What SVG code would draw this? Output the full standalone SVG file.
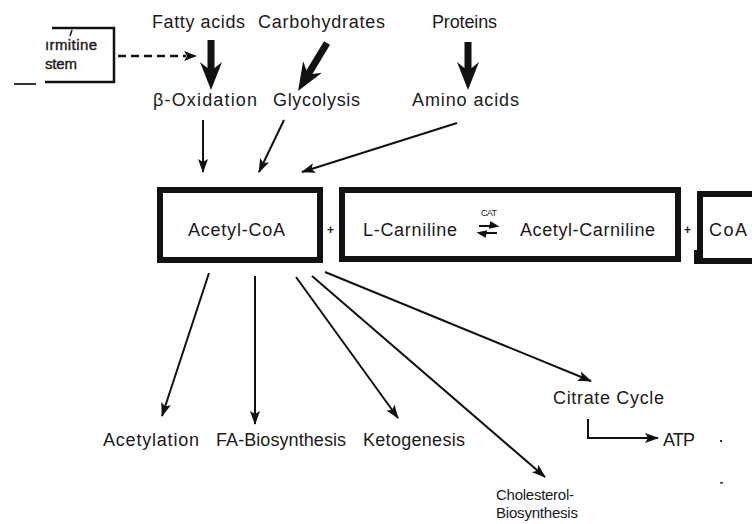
<svg xmlns="http://www.w3.org/2000/svg" width="752" height="524" viewBox="0 0 752 524">
<style>
text{font-family:"Liberation Sans",Arial,sans-serif;fill:#1a1a1a}
.lbl{font-size:18px}
.big{font-size:18px}
.sm{font-size:15px}
.box{fill:none;stroke:#111;stroke-width:6}
.thin{stroke:#111;stroke-width:2;fill:none}
.thick{fill:#111}
</style>
<defs>
<marker id="ah" viewBox="0 0 14 10" refX="13" refY="5" markerWidth="14" markerHeight="10" markerUnits="userSpaceOnUse" orient="auto">
<path d="M0,0 L14,5 L0,10 L3,5 z" fill="#111"/>
</marker>
</defs>
<rect width="752" height="524" fill="#fff"/>

<g id="carnitine-system">
<path d="M52,28 H114 V82 H45" fill="none" stroke="#111" stroke-width="2.5"/>
<path d="M72,30 L70,36" stroke="#111" stroke-width="1.5"/>
<text x="45" y="50" font-size="15" stroke="#1a1a1a" stroke-width="0.4" textLength="52">ırmitine</text>
<text x="45" y="69" font-size="15" stroke="#1a1a1a" stroke-width="0.4" textLength="32">stem</text>
<rect x="14" y="83" width="22" height="2" fill="#333"/>
</g>

<g id="fatty-acids"><text class="lbl" x="152" y="28" textLength="93">Fatty acids</text></g>
<g id="carbohydrates"><text class="lbl" x="258" y="28" textLength="127">Carbohydrates</text></g>
<g id="proteins"><text class="lbl" x="432" y="28" textLength="65">Proteins</text></g>
<g id="beta-oxidation"><text class="lbl" x="153" y="106" textLength="104">β-Oxidation</text></g>
<g id="glycolysis"><text class="lbl" x="273" y="106" textLength="87">Glycolysis</text></g>
<g id="amino-acids"><text class="lbl" x="412" y="106" textLength="107">Amino acids</text></g>

<g id="acetyl-coa">
<rect class="box" x="160" y="190" width="160" height="70"/>
<text class="big" x="188" y="236" textLength="97">Acetyl-CoA</text>
</g>
<g id="plus1"><text x="327" y="234" font-size="12" font-weight="bold">+</text></g>
<g id="carnitine-box">
<rect class="box" x="342" y="190" width="336" height="69"/>
<text class="big" x="363" y="236" textLength="94">L-Carniline</text>
<text x="481" y="216" font-size="9" textLength="16">CAT</text>
<path d="M479,226 H497 M491,222.5 L497,226 L490,227.5 z" stroke="#111" stroke-width="1.8" fill="#111"/>
<path d="M479,233 H497 M485,236.5 L479,233 L486,231.5 z" stroke="#111" stroke-width="1.8" fill="#111"/>
<text class="big" x="520" y="236" textLength="135">Acetyl-Carniline</text>
</g>
<g id="plus2"><text x="684" y="234" font-size="12" font-weight="bold">+</text></g>
<g id="coa">
<path d="M760,194 H700 V261 H760" class="box"/>
<rect x="694" y="250" width="6" height="14" fill="#111"/>
<text class="big" x="709" y="236" textLength="38">CoA</text>
</g>

<g id="acetylation"><text class="lbl" x="103" y="446" textLength="96">Acetylation</text></g>
<g id="fa-biosynthesis"><text class="lbl" x="216" y="446" textLength="130">FA-Biosynthesis</text></g>
<g id="ketogenesis"><text class="lbl" x="363" y="446" textLength="102">Ketogenesis</text></g>
<g id="citrate-cycle"><text class="lbl" x="553" y="404" textLength="111">Citrate Cycle</text></g>
<g id="atp"><text class="lbl" x="663" y="446" textLength="32">ATP</text></g>
<g id="cholesterol">
<text class="sm" x="496" y="500" textLength="78">Cholesterol-</text>
<text class="sm" x="496" y="518" textLength="82">Biosynthesis</text>
</g>
<g id="marks">
<rect x="720" y="440" width="2" height="2" fill="#333"/>
<rect x="720" y="482" width="3" height="1.5" fill="#333"/>
</g>

<g id="connectors">
<path d="M118,56 H186" stroke="#111" stroke-width="2.5" stroke-dasharray="8 5"/>
<path d="M184,51 L197,56 L184,61 L187,56 z" fill="#111"/>
<polygon class="thick" transform="translate(211,40)" points="-3.5,0 3.5,0 3.5,28 11,22 0,50 -11,22 -3.5,28"/>
<polygon class="thick" transform="translate(327,43) rotate(31.1)" points="-3.5,0 3.5,0 3.5,34 11,28 0,56 -11,28 -3.5,34"/>
<polygon class="thick" transform="translate(468,42)" points="-3.5,0 3.5,0 3.5,26 11,20 0,48 -11,20 -3.5,26"/>
<line class="thin" x1="203" y1="120" x2="203" y2="172" marker-end="url(#ah)"/>
<line class="thin" x1="284" y1="120" x2="259" y2="172" marker-end="url(#ah)"/>
<line class="thin" x1="457" y1="123" x2="302" y2="172" marker-end="url(#ah)"/>
<line class="thin" x1="209" y1="273" x2="162" y2="416" marker-end="url(#ah)"/>
<line class="thin" x1="255" y1="276" x2="255" y2="424" marker-end="url(#ah)"/>
<line class="thin" x1="296" y1="277" x2="398" y2="418" marker-end="url(#ah)"/>
<line class="thin" x1="312" y1="276" x2="545" y2="477" marker-end="url(#ah)"/>
<line class="thin" x1="325" y1="272" x2="591" y2="381" marker-end="url(#ah)"/>
<path class="thin" d="M588,419 V438 H658" marker-end="url(#ah)"/>
</g>
</svg>
